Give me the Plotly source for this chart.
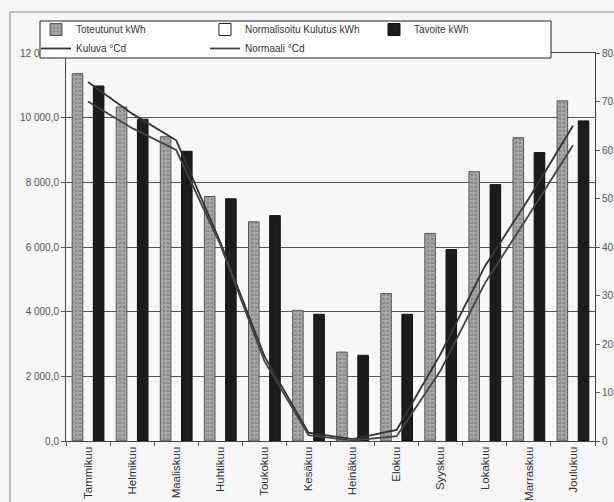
import plotly.graph_objects as go

# Monthly energy consumption (kWh) and degree days (°Cd)
months = ["Tammikuu", "Helmikuu", "Maaliskuu", "Huhtikuu", "Toukokuu", "Kesäkuu",
          "Heinäkuu", "Elokuu", "Syyskuu", "Lokakuu", "Marraskuu", "Joulukuu"]
toteutunut_kwh = [11360, 10330, 9410, 7560, 6780, 4040, 2750, 4560, 6420, 8330, 9380, 10520]
normalisoitu_kwh = [None] * 12
tavoite_kwh = [10980, 9950, 8960, 7490, 6970, 3920, 2650, 3920, 5920, 7930, 8920, 9900]
kuluva_cd = [74, 67.5, 62, 41, 17.5, 1.7, 0.4, 2.3, 18, 36, 50, 65]
normaali_cd = [70, 64.5, 60, 40.5, 16.5, 1.2, 0.1, 1.0, 14.6, 32.5, 46.6, 61]

W, H = 614, 502
ML, MR, MT, MB = 66, 19, 53, 61
PW, PH = W - ML - MR, H - MT - MB

def px_x(px):
    return (px - ML) / PW

def px_y(py):
    return 1 + (MT - py) / PH

fig = go.Figure()
fig.add_trace(go.Bar(
    name="Toteutunut kWh", x=months, y=toteutunut_kwh,
    marker=dict(color="#a6a6a6",
                pattern=dict(shape=".", fgcolor="#6a6a6a", size=4, solidity=0.35),
                line=dict(color="#555555", width=1)),
))
fig.add_trace(go.Bar(
    name="Normalisoitu Kulutus kWh", x=months, y=normalisoitu_kwh,
    marker=dict(color="#ffffff", line=dict(color="#222222", width=1)),
))
fig.add_trace(go.Bar(
    name="Tavoite kWh", x=months, y=tavoite_kwh,
    marker=dict(color="#1c1c1c", line=dict(color="#111111", width=1)),
))
fig.add_trace(go.Scatter(
    name="Kuluva °Cd", x=months, y=kuluva_cd, yaxis="y2", mode="lines",
    line=dict(color="#333333", width=1.8),
))
fig.add_trace(go.Scatter(
    name="Normaali °Cd", x=months, y=normaali_cd, yaxis="y2", mode="lines",
    line=dict(color="#444444", width=1.8),
))

axis_font = dict(family="Liberation Sans, Arial, sans-serif", size=10, color="#555555")

fig.update_layout(
    width=W, height=H,
    margin=dict(l=ML, r=MR, t=MT, b=MB, autoexpand=False),
    paper_bgcolor="#f6f6f6",
    plot_bgcolor="#f8f8f8",
    font=dict(family="Liberation Sans, Arial, sans-serif", size=10, color="#333333"),
    separators=", ",
    barmode="group",
    bargap=0.28,
    bargroupgap=0,
    showlegend=True,
    legend=dict(
        orientation="h",
        x=px_x(36), y=px_y(15), xanchor="left", yanchor="top",
        entrywidth=124, entrywidthmode="pixels",
        bgcolor="rgba(0,0,0,0)", borderwidth=0,
        font=dict(size=10, color="#333333"),
        tracegroupgap=0, itemwidth=30,
    ),
    xaxis=dict(
        type="category", tickangle=-90, tickson="boundaries",
        ticks="outside", ticklen=4, tickcolor="#555555",
        showline=True, linecolor="#444444", linewidth=1, mirror=True,
        showgrid=False, tickfont=dict(size=11.5, color="#333333"),
        automargin=False,
    ),
    yaxis=dict(
        range=[0, 12000], dtick=2000, tickformat=",.1f",
        ticks="outside", ticklen=4, tickcolor="#555555",
        showline=True, linecolor="#444444", linewidth=1,
        showgrid=True, gridcolor="#555555", gridwidth=1,
        zeroline=False, tickfont=axis_font, automargin=False,
    ),
    yaxis2=dict(
        range=[0, 80], dtick=10, overlaying="y", side="right",
        ticks="outside", ticklen=4, tickcolor="#555555",
        showline=True, linecolor="#444444", linewidth=1,
        showgrid=False, zeroline=False, tickfont=axis_font, automargin=False,
    ),
    shapes=[
        # outer chart frame
        dict(type="rect", xref="paper", yref="paper",
             x0=px_x(10), x1=px_x(640), y0=px_y(540), y1=px_y(12),
             line=dict(color="#8a8a8a", width=1), fillcolor="rgba(0,0,0,0)"),
        # legend box
        dict(type="rect", xref="paper", yref="paper",
             x0=px_x(40), x1=px_x(551), y0=px_y(58), y1=px_y(21),
             line=dict(color="#222222", width=1), fillcolor="#ffffff"),
    ],
)

fig.write_html("out.html")
